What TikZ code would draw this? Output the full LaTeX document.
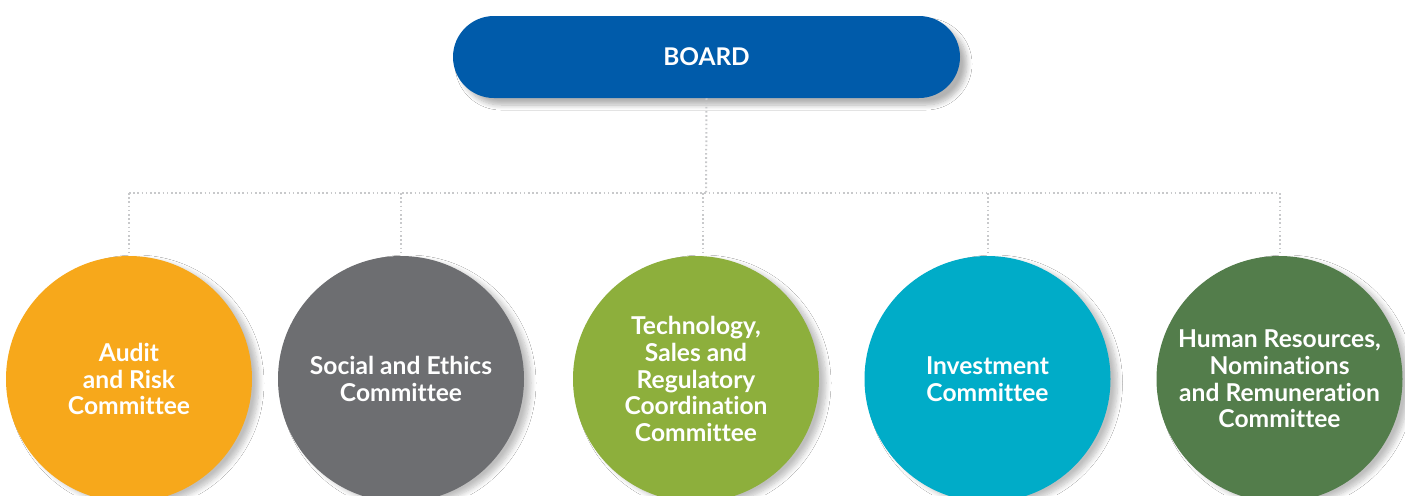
\documentclass[tikz,border=0pt]{standalone}
\usepackage{fontspec}
\setmainfont[Ligatures={NoCommon}]{Lato}
\usetikzlibrary{shadows.blur}
\definecolor{boardblue}{HTML}{005BAA}
\definecolor{corange}{HTML}{F7A81B}
\definecolor{cgray}{HTML}{6D6E71}
\definecolor{cgreen}{HTML}{8DAF3C}
\definecolor{ccyan}{HTML}{00ACC8}
\definecolor{cdgreen}{HTML}{537D4B}
\definecolor{dotcol}{HTML}{C8C9CB}
\begin{document}
\begin{tikzpicture}[x=0.5pt,y=-0.5pt,
  comm/.style={circle, minimum size=123pt, inner sep=0pt, text=white,
    font=\bfseries\fontsize{12.3pt}{13.3pt}\selectfont, align=center,
    blur shadow={shadow xshift=3.5pt, shadow yshift=-2pt, shadow blur radius=2.5pt, shadow blur steps=8, shadow opacity=25}},
  boardbox/.style={rounded corners=20.5pt, fill=boardblue, minimum width=253.5pt,
    minimum height=41pt, text=white, font=\bfseries\fontsize{12.2pt}{14pt}\selectfont,
    blur shadow={shadow xshift=3.5pt, shadow yshift=-3.5pt, shadow blur radius=2.5pt, shadow blur steps=8, shadow opacity=30}},
  link/.style={draw=dotcol, line width=1pt, dash pattern=on 0.8pt off 1.3pt}]
\clip (0,0) rectangle (1405,495);
\fill[white] (0,0) rectangle (1405,495);
\node[boardbox] (board) at (706.5,57) {BOARD};
\node[comm, fill=corange] (c1) at (129,379) {Audit\\and Risk\\Committee};
\node[comm, fill=cgray] (c2) at (401,379) {Social and Ethics\\Committee};
\node[comm, fill=cgreen] (c3) at (696,379) {Technology,\\Sales and\\Regulatory\\Coordination\\Committee};
\node[comm, fill=ccyan] (c4) at (987.5,379) {Investment\\Committee};
\node[comm, fill=cdgreen] (c5) at (1279.5,379) {Human Resources,\\Nominations\\and Remuneration\\Committee};
\coordinate (bus) at (706,193);
\coordinate (busL) at (129,193);
\coordinate (busR) at (1279.5,193);
\draw[link] (board.south) -- (bus);
\draw[link] (busL) -- (busR);
\draw[link] (busL) -- (c1.north);
\draw[link] (c2.north |- bus) -- (c2.north);
\draw[link] (703,193) -- (703,256);
\draw[link] (c4.north |- bus) -- (c4.north);
\draw[link] (busR) -- (c5.north);
\end{tikzpicture}
\end{document}
